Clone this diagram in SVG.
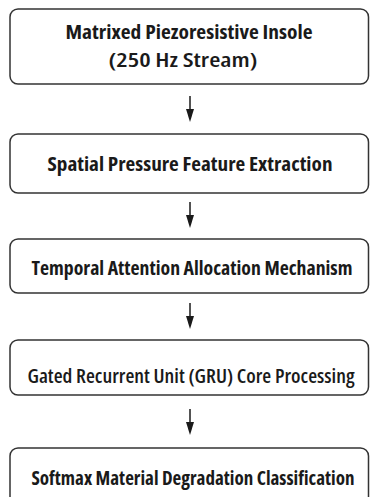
<svg xmlns="http://www.w3.org/2000/svg" width="370" height="497" viewBox="0 0 370 497">
<defs>
<style>
.box{fill:#ffffff;stroke:#333333;stroke-width:1.5}
.t{font-family:"Open Sans","Liberation Sans",sans-serif;font-size:19px;font-weight:700;font-stretch:condensed;fill:#1a1a1a;text-anchor:middle}
.r{font-weight:600}
.c{stroke:#1a1a1a;stroke-width:1.5;fill:none}
.h{fill:#1a1a1a}
</style>
</defs>
<rect width="370" height="497" fill="#ffffff"/>
<g id="connectors">
<line class="c" x1="190" y1="96" x2="190" y2="110"/><path class="h" d="M186,109 L194,109 L190,122 Z"/>
<line class="c" x1="190" y1="202" x2="190" y2="216"/><path class="h" d="M186,215 L194,215 L190,228 Z"/>
<line class="c" x1="190" y1="303" x2="190" y2="317"/><path class="h" d="M186,316 L194,316 L190,329 Z"/>
<line class="c" x1="190" y1="409" x2="190" y2="423"/><path class="h" d="M186,422 L194,422 L190,435 Z"/>
</g>
<g id="n1">
<rect class="box" x="10" y="9" width="358.5" height="75" rx="8"/>
<text class="t" x="189" y="39" textLength="247" lengthAdjust="spacingAndGlyphs">Matrixed Piezoresistive Insole</text>
<text class="t r" x="183" y="67" textLength="149" lengthAdjust="spacingAndGlyphs">(250 Hz Stream)</text>
</g>
<g id="n2">
<rect class="box" x="10" y="134" width="358.5" height="59" rx="8"/>
<text class="t" x="190" y="171" textLength="285" lengthAdjust="spacingAndGlyphs">Spatial Pressure Feature Extraction</text>
</g>
<g id="n3">
<rect class="box" x="10" y="239" width="358.5" height="54" rx="8"/>
<text class="t" x="192" y="275" textLength="321" lengthAdjust="spacingAndGlyphs">Temporal Attention Allocation Mechanism</text>
</g>
<g id="n4">
<rect class="box" x="10" y="340" width="358.5" height="55" rx="8"/>
<text class="t r" x="191" y="383" textLength="327" lengthAdjust="spacingAndGlyphs">Gated Recurrent Unit (GRU) Core Processing</text>
</g>
<g id="n5">
<rect class="box" x="10" y="448" width="358.5" height="70" rx="8"/>
<text class="t" x="193" y="485" textLength="323" lengthAdjust="spacingAndGlyphs">Softmax Material Degradation Classification</text>
</g>
</svg>
